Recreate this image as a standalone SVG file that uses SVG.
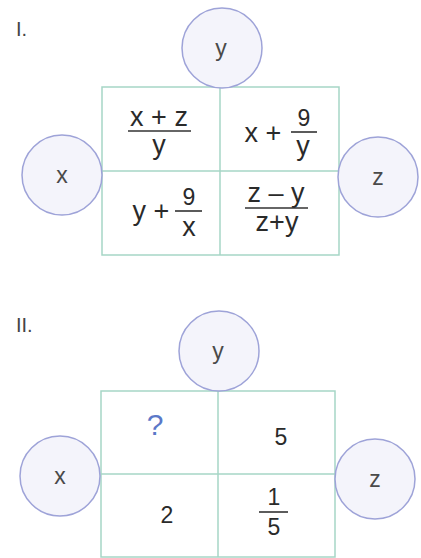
<svg xmlns="http://www.w3.org/2000/svg" width="421" height="558" viewBox="0 0 421 558">
<style>
.bg{fill:#ffffff}
.c{fill:#f4f4fb;stroke:#9ea3d8;stroke-width:1.5}
.grid{fill:none;stroke:#a6d6c6;stroke-width:1.5}
.lbl{font-family:"Liberation Sans",Arial,sans-serif;font-size:23px;fill:#4a4a4a;text-anchor:middle}
.t{font-family:"Liberation Sans",Arial,sans-serif;font-size:27px;fill:#2a2a2a;text-anchor:middle}
.d{font-family:"Liberation Sans",Arial,sans-serif;font-size:23px;fill:#2a2a2a;text-anchor:middle}
.num{font-family:"Liberation Sans",Arial,sans-serif;font-size:20px;fill:#444;text-anchor:start}
.q{font-family:"Liberation Sans",Arial,sans-serif;font-size:30px;fill:#5b78c8;text-anchor:middle}
.fl{stroke:#333;stroke-width:1.6}
</style>
<rect class="bg" x="0" y="0" width="421" height="558"/>

<text class="num" x="16" y="36">I.</text>
<text class="num" x="16" y="332">II.</text>

<g id="table1">
  <rect class="grid" x="102" y="87" width="237" height="168"/>
  <line class="grid" x1="220" y1="87" x2="220" y2="255"/>
  <line class="grid" x1="102" y1="171" x2="339" y2="171"/>
</g>
<g id="table2">
  <rect class="grid" x="101" y="391" width="234" height="166"/>
  <line class="grid" x1="218" y1="391" x2="218" y2="557"/>
  <line class="grid" x1="101" y1="474" x2="335" y2="474"/>
</g>

<g id="y1"><circle class="c" cx="222" cy="48" r="40"/><text class="lbl" x="221" y="56">y</text></g>
<g id="x1"><circle class="c" cx="62" cy="175" r="40"/><text class="lbl" x="62" y="183">x</text></g>
<g id="z1"><circle class="c" cx="378" cy="177" r="40"/><text class="lbl" x="378" y="185">z</text></g>

<g id="y2"><circle class="c" cx="219" cy="351" r="40"/><text class="lbl" x="218" y="359">y</text></g>
<g id="x2"><circle class="c" cx="60" cy="476" r="40"/><text class="lbl" x="60" y="484">x</text></g>
<g id="z2"><circle class="c" cx="375" cy="479" r="40"/><text class="lbl" x="375" y="487">z</text></g>

<g id="cell1a">
  <text class="t" x="159" y="126">x + z</text>
  <line class="fl" x1="128" y1="131" x2="191" y2="131"/>
  <text class="t" x="159" y="154">y</text>
</g>
<g id="cell1b">
  <text class="t" x="263" y="142">x +</text>
  <text class="d" x="304" y="126">9</text>
  <line class="fl" x1="291" y1="132" x2="317" y2="132"/>
  <text class="t" x="303" y="155">y</text>
</g>
<g id="cell1c">
  <text class="t" x="151" y="220">y +</text>
  <text class="d" x="189" y="205">9</text>
  <line class="fl" x1="175" y1="211" x2="202" y2="211"/>
  <text class="t" x="189" y="236">x</text>
</g>
<g id="cell1d">
  <text class="t" x="276" y="202">z – y</text>
  <line class="fl" x1="245" y1="208" x2="308" y2="208"/>
  <text class="t" x="277" y="231">z+y</text>
</g>

<g id="cell2a"><text class="q" x="155" y="435">?</text></g>
<g id="cell2b"><text class="d" x="281" y="445">5</text></g>
<g id="cell2c"><text class="d" x="167" y="523">2</text></g>
<g id="cell2d">
  <text class="d" x="274" y="505">1</text>
  <line class="fl" x1="259" y1="512" x2="288" y2="512"/>
  <text class="d" x="274" y="535">5</text>
</g>
</svg>
